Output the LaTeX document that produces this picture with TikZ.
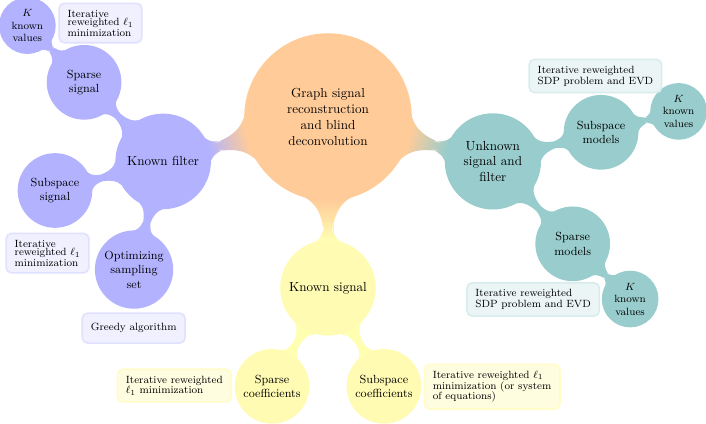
\documentclass[tikz,border=0pt]{standalone}
\usepackage{tikz}
\usepackage{xcolor}
\usetikzlibrary{mindmap}

\begin{document}
\begin{tikzpicture}[
      mindmap,
      rootc/.style={concept, concept color=orange!40, minimum size=4.45cm,
                  inner sep=0pt, text width=2.7cm, align=center, font=\normalsize},
      lone/.style={concept, minimum size=2.52cm, inner sep=0pt,
                  text width=2.3cm, align=center, font=\normalsize},
      ltwo/.style={concept, minimum size=1.96cm, inner sep=0pt,
                  text width=1.8cm, align=center, font=\small},
      lthree/.style={concept, minimum size=1.4cm, inner sep=0pt,
                  text width=1.2cm, align=center, font=\footnotesize},
      annot/.style={rectangle, rounded corners, align=left, text width=,
                  minimum width=0pt, minimum height=0.8cm,
                  inner xsep=6.5pt, inner ysep=5pt,
                  font=\footnotesize\linespread{0.87}\selectfont},
      tight/.style={font=\footnotesize\linespread{0.7}\selectfont},
      bluenote/.style={annot, fill=blue!6, draw=blue!12},
      tealnote/.style={annot, fill=teal!8, draw=teal!15},
      yellownote/.style={annot, fill=yellow!12, draw=yellow!22}
    ]
      \useasboundingbox (-8.794,-8.204) rectangle (10.134,3.137);
      % Root
      \node[rootc] (root) at (0,0)
        {Graph signal\\reconstruction\\and blind\\deconvolution};
      % Known filter
      \node[lone, concept color=blue!30] (kf) at (-4.42,-1.19) {Known filter};
      \node[ltwo, concept color=blue!30] (sps) at (-6.54,0.93) {Sparse\\signal};
      \node[ltwo, concept color=blue!30] (sbs) at (-7.32,-1.97) {Subspace\\signal};
      \node[ltwo, concept color=blue!30] (oss) at (-5.20,-4.09)
        {Optimizing\\sampling\\set};
      \node[lthree, concept color=blue!30] (kvb) at (-8.06,2.45)
        {$K$\\known\\values};
      % Unknown signal and filter
      \node[lone, concept color=teal!40] (us) at (4.42,-1.19)
        {Unknown\\signal and\\filter};
      \node[ltwo, concept color=teal!40] (sbm) at (7.32,-0.41) {Subspace\\models};
      \node[ltwo, concept color=teal!40] (spm) at (6.56,-3.40) {Sparse\\models};
      \node[lthree, concept color=teal!40] (kvt) at (9.40,0.15)
        {$K$\\known\\values};
      \node[lthree, concept color=teal!40] (kvr) at (8.10,-4.88)
        {$K$\\known\\values};
      % Known signal
      \node[lone, concept color=yellow!30] (ks) at (0,-4.58) {Known signal};
      \node[ltwo, concept color=yellow!30] (spc) at (-1.50,-7.22)
        {Sparse\\coefficients};
      \node[ltwo, concept color=yellow!30] (sbc) at (1.50,-7.22)
        {Subspace\\coefficients};

      % Annotations
      \node[bluenote, tight] (a1) at (-6.10,2.52)
        {Iterative\\reweighted $\ell_1$\\minimization};
      \node[bluenote, tight] (a2) at (-7.52,-3.65)
        {Iterative\\reweighted $\ell_1$\\minimization};
      \node[bluenote] (a3) at (-5.21,-5.66) {Greedy algorithm};
      \node[tealnote] (a4) at (7.17,1.10)
        {Iterative reweighted\\SDP problem and EVD};
      \node[tealnote] (a5) at (5.50,-4.89)
        {Iterative reweighted\\SDP problem and EVD};
      \node[yellownote] (a6) at (-4.12,-7.20)
        {Iterative reweighted\\$\ell_1$ minimization};
      \node[yellownote] (a7) at (4.40,-7.23)
        {Iterative reweighted $\ell_1$\\minimization (or system\\of equations)};

      \path (root) to[circle connection bar switch color=from (orange!40) to (blue!30)] (kf);
      \path (root) to[circle connection bar switch color=from (orange!40) to (teal!40)] (us);
      \path (root) to[circle connection bar switch color=from (orange!40) to (yellow!30)] (ks);
      \path (kf) to[circle connection bar switch color=from (blue!30) to (blue!30)] (sps);
      \path (kf) to[circle connection bar switch color=from (blue!30) to (blue!30)] (sbs);
      \path (kf) to[circle connection bar switch color=from (blue!30) to (blue!30)] (oss);
      \path (sps) to[circle connection bar switch color=from (blue!30) to (blue!30)] (kvb);
      \path (us) to[circle connection bar switch color=from (teal!40) to (teal!40)] (sbm);
      \path (us) to[circle connection bar switch color=from (teal!40) to (teal!40)] (spm);
      \path (sbm) to[circle connection bar switch color=from (teal!40) to (teal!40)] (kvt);
      \path (spm) to[circle connection bar switch color=from (teal!40) to (teal!40)] (kvr);
      \path (ks) to[circle connection bar switch color=from (yellow!30) to (yellow!30)] (spc);
      \path (ks) to[circle connection bar switch color=from (yellow!30) to (yellow!30)] (sbc);
    \end{tikzpicture}
\end{document}
